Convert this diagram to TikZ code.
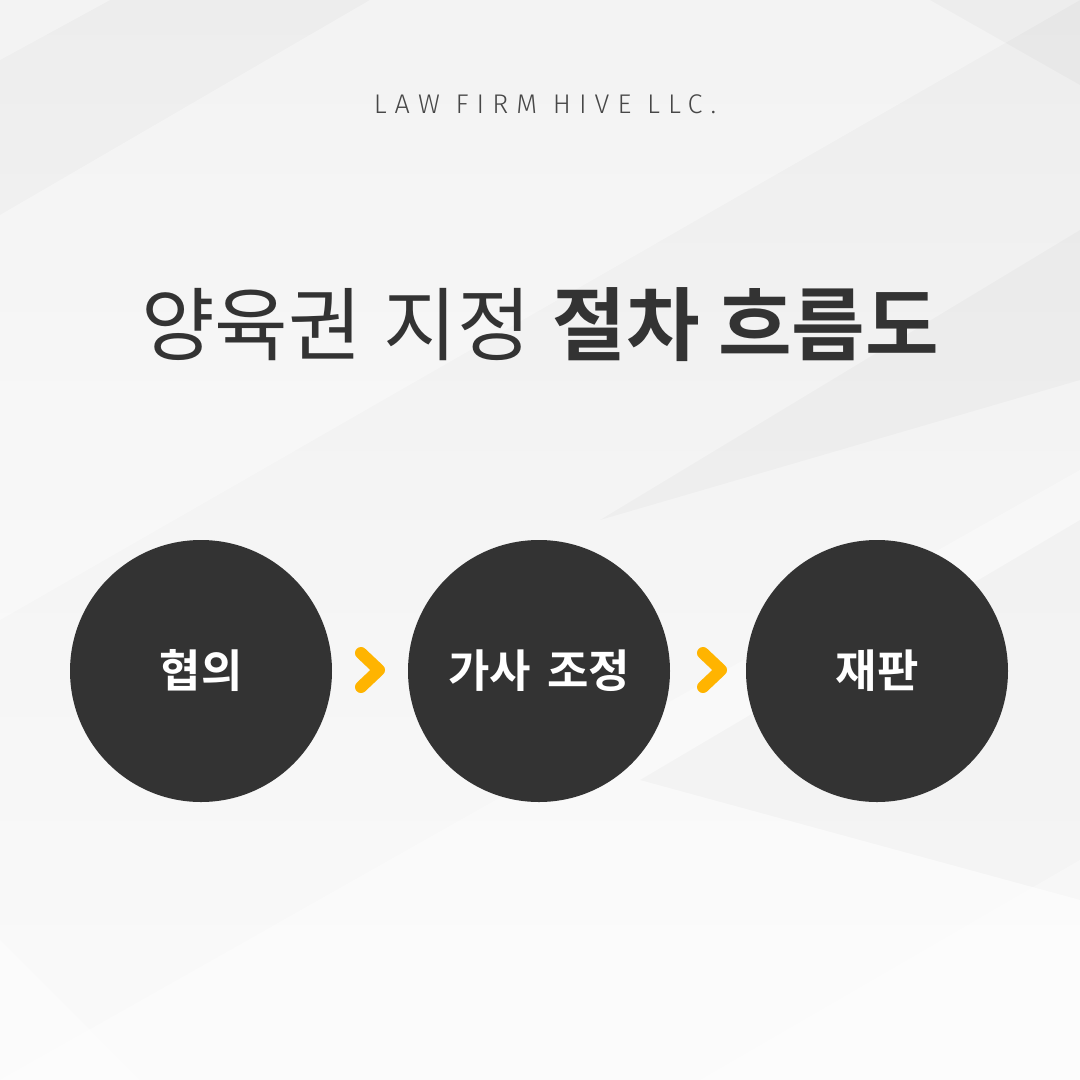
\documentclass[tikz,border=0pt]{standalone}
\usepackage{fontspec}
\newfontfamily\krfont[BoldFont={Noto Sans CJK KR Bold}]{Noto Sans CJK KR}
\newfontfamily\hdrfont[LetterSpace=30]{Fira Sans Light}
\usetikzlibrary{calc}
\definecolor{dark}{HTML}{333333}
\definecolor{amber}{HTML}{FFB400}
\definecolor{bgtop}{HTML}{EDEDED}
\definecolor{bgbot}{HTML}{FAFAFA}
\tikzset{
  stepcircle/.style={circle, fill=dark, minimum size=262pt, inner sep=0pt, text=white, font=\krfont\bfseries\fontsize{45}{48}\selectfont},
  chev/.style={draw=amber, line width=12pt, line cap=round, line join=round},
  facetlight/.style={fill=white, opacity=0.35},
  facetdark/.style={fill=black, opacity=0.025},
}
\begin{document}
\begin{tikzpicture}[x=1pt, y=-1pt]
% background
\shade[top color=bgtop, bottom color=bgbot, middle color=bgbot!60!bgtop] (0,0) rectangle (1080,1080);
\fill[facetlight] (0,215) -- (370,0) -- (1080,0) -- (0,620) -- cycle;
\fill[facetlight] (0,0) -- (110,0) -- (0,60) -- cycle;
\fill[facetdark] (930,0) -- (1080,0) -- (1080,85) -- cycle;
\fill[facetlight] (0,1080) -- (1080,470) -- (1080,1080) -- cycle;
\fill[facetdark] (640,780) -- (1080,520) -- (1080,900) -- cycle;
\fill[facetdark] (600,520) -- (1080,230) -- (1080,380) -- cycle;
\fill[facetlight] (700,1080) -- (1080,860) -- (1080,1080) -- cycle;
\fill[facetlight] (0,940) -- (140,1080) -- (0,1080) -- cycle;
\useasboundingbox (0,0) rectangle (1080,1080);
% header and title
\node[anchor=base, text=dark!90, font=\hdrfont\fontsize{27}{30}\selectfont] (hdr) at (545,113) {LAW FIRM HIVE LLC.};
\node[anchor=base, text=dark, font=\krfont\fontsize{80}{90}\selectfont] (title) at (540,354) {양육권\hspace{4pt} 지정\hspace{4pt} \textbf{절차 흐름도}};
% steps
\node[stepcircle] (s1) at (201,671) {협의};
\node[stepcircle] (s2) at (539,671) {가사\hspace{6pt} 조정};
\node[stepcircle] (s3) at (877,671) {재판};
% chevrons
\coordinate (c1) at (379,670);
\coordinate (c2) at (721,670);
\draw[chev] (c1) ++(-18,-17) -- (c1) -- ++(-18,17);
\draw[chev] (c2) ++(-18,-17) -- (c2) -- ++(-18,17);
\end{tikzpicture}
\end{document}
